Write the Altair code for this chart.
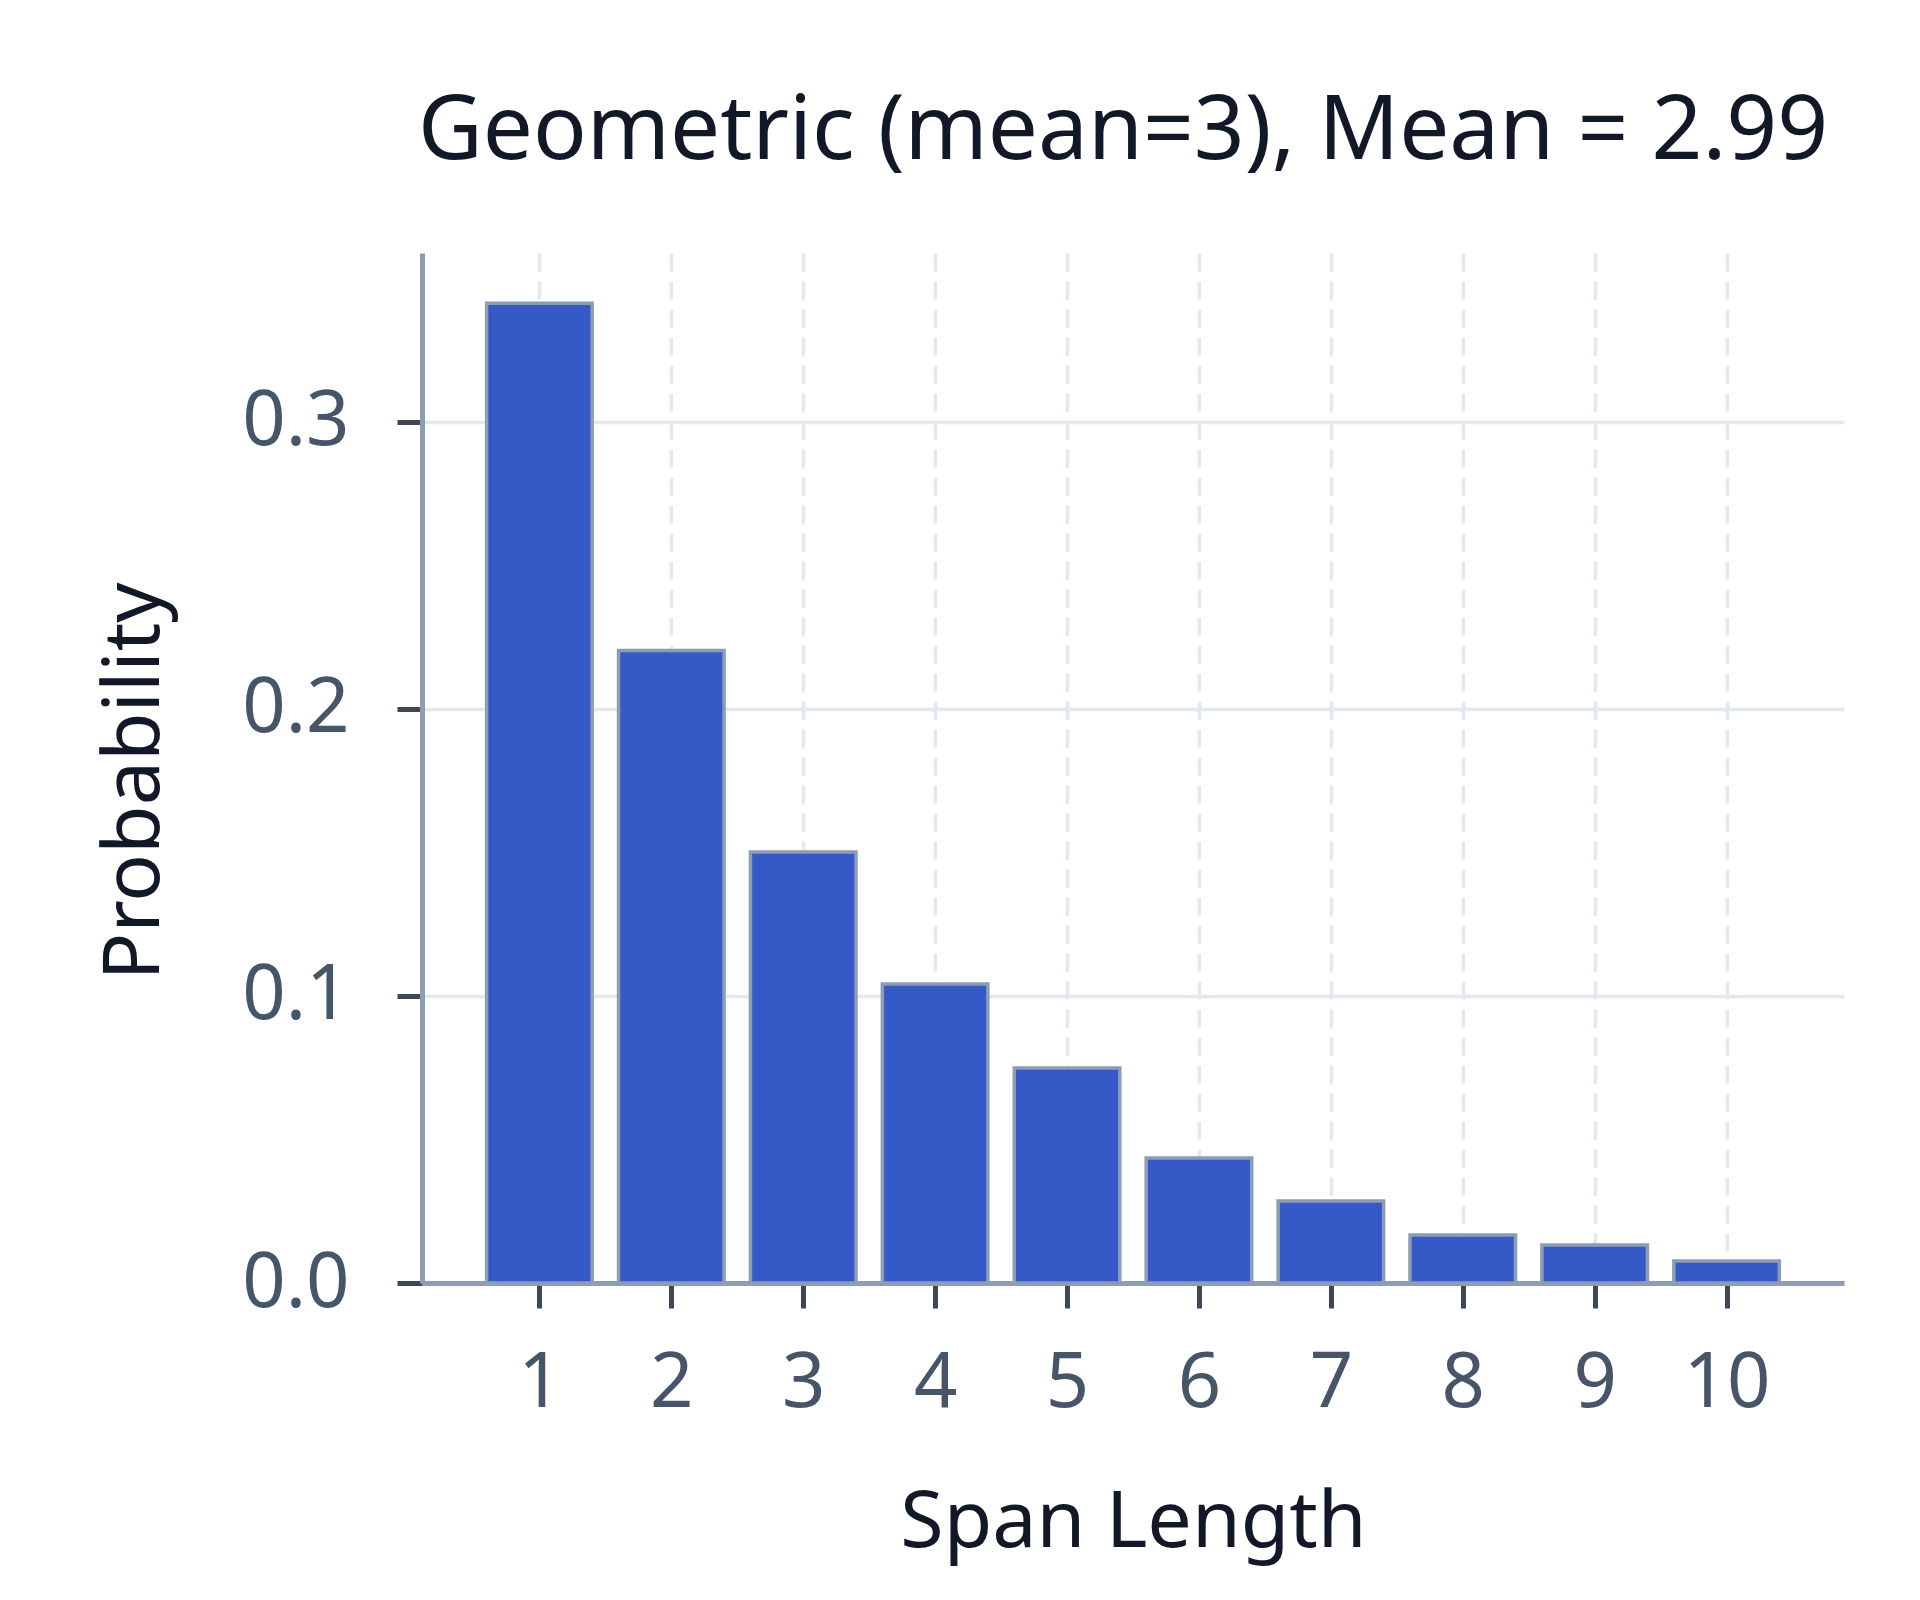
import pandas as pd
import altair as alt

# values
span_length = [1, 2, 3, 4, 5, 6, 7, 8, 9, 10]
probability = [0.3412, 0.2203, 0.1501, 0.1041, 0.0749, 0.0435, 0.0286, 0.0167, 0.0132, 0.0077]
y_ticks = [0.0, 0.1, 0.2, 0.3]

df = pd.DataFrame({"span": span_length, "prob": probability})

x_scale = alt.Scale(domain=[0.11, 10.89], nice=False, zero=False)
y_scale = alt.Scale(domain=[0, 0.3587], nice=False)

bars = alt.Chart(df).transform_calculate(
    left="datum.span - 0.4",
    right="datum.span + 0.4",
).mark_bar(
    color="#3559c7",
    stroke="#8d9db3",
    strokeWidth=3.5,
    cornerRadius=0,
).encode(
    x=alt.X("left:Q", scale=x_scale,
            axis=alt.Axis(values=span_length, title="Span Length", format="d",
                          grid=True, gridDash=[18, 10], gridColor="#e2e8f0", gridWidth=3.5,
                          labelPadding=38, titlePadding=63)),
    x2="right:Q",
    y=alt.Y("prob:Q", scale=y_scale,
            axis=alt.Axis(values=y_ticks, title="Probability", format=".1f",
                          grid=True, gridColor="#e2e8f0", gridWidth=3.5,
                          labelPadding=48, titlePadding=66, titleY=528)),
    y2=alt.datum(0),
)

chart = bars.properties(
    width=1422,
    height=1030,
    padding={"left": 87, "top": 80, "right": 40, "bottom": 20},
    title=alt.Title("Geometric (mean=3), Mean = 2.99", fontSize=89, font="Noto Sans",
                    fontWeight="normal", color="#111827", offset=75, dx=-10),
).configure_view(
    stroke=None,
).configure_axis(
    labelFont="Noto Sans",
    titleFont="Noto Sans",
    labelFontSize=76,
    titleFontSize=79,
    titleFontWeight="normal",
    labelColor="#475569",
    titleColor="#111827",
    domainColor="#8d9db3",
    domainWidth=5,
    tickColor="#3d4758",
    tickWidth=5,
    tickSize=25,
)

chart.save("out.html", embed_options={"renderer": "svg", "actions": False})
